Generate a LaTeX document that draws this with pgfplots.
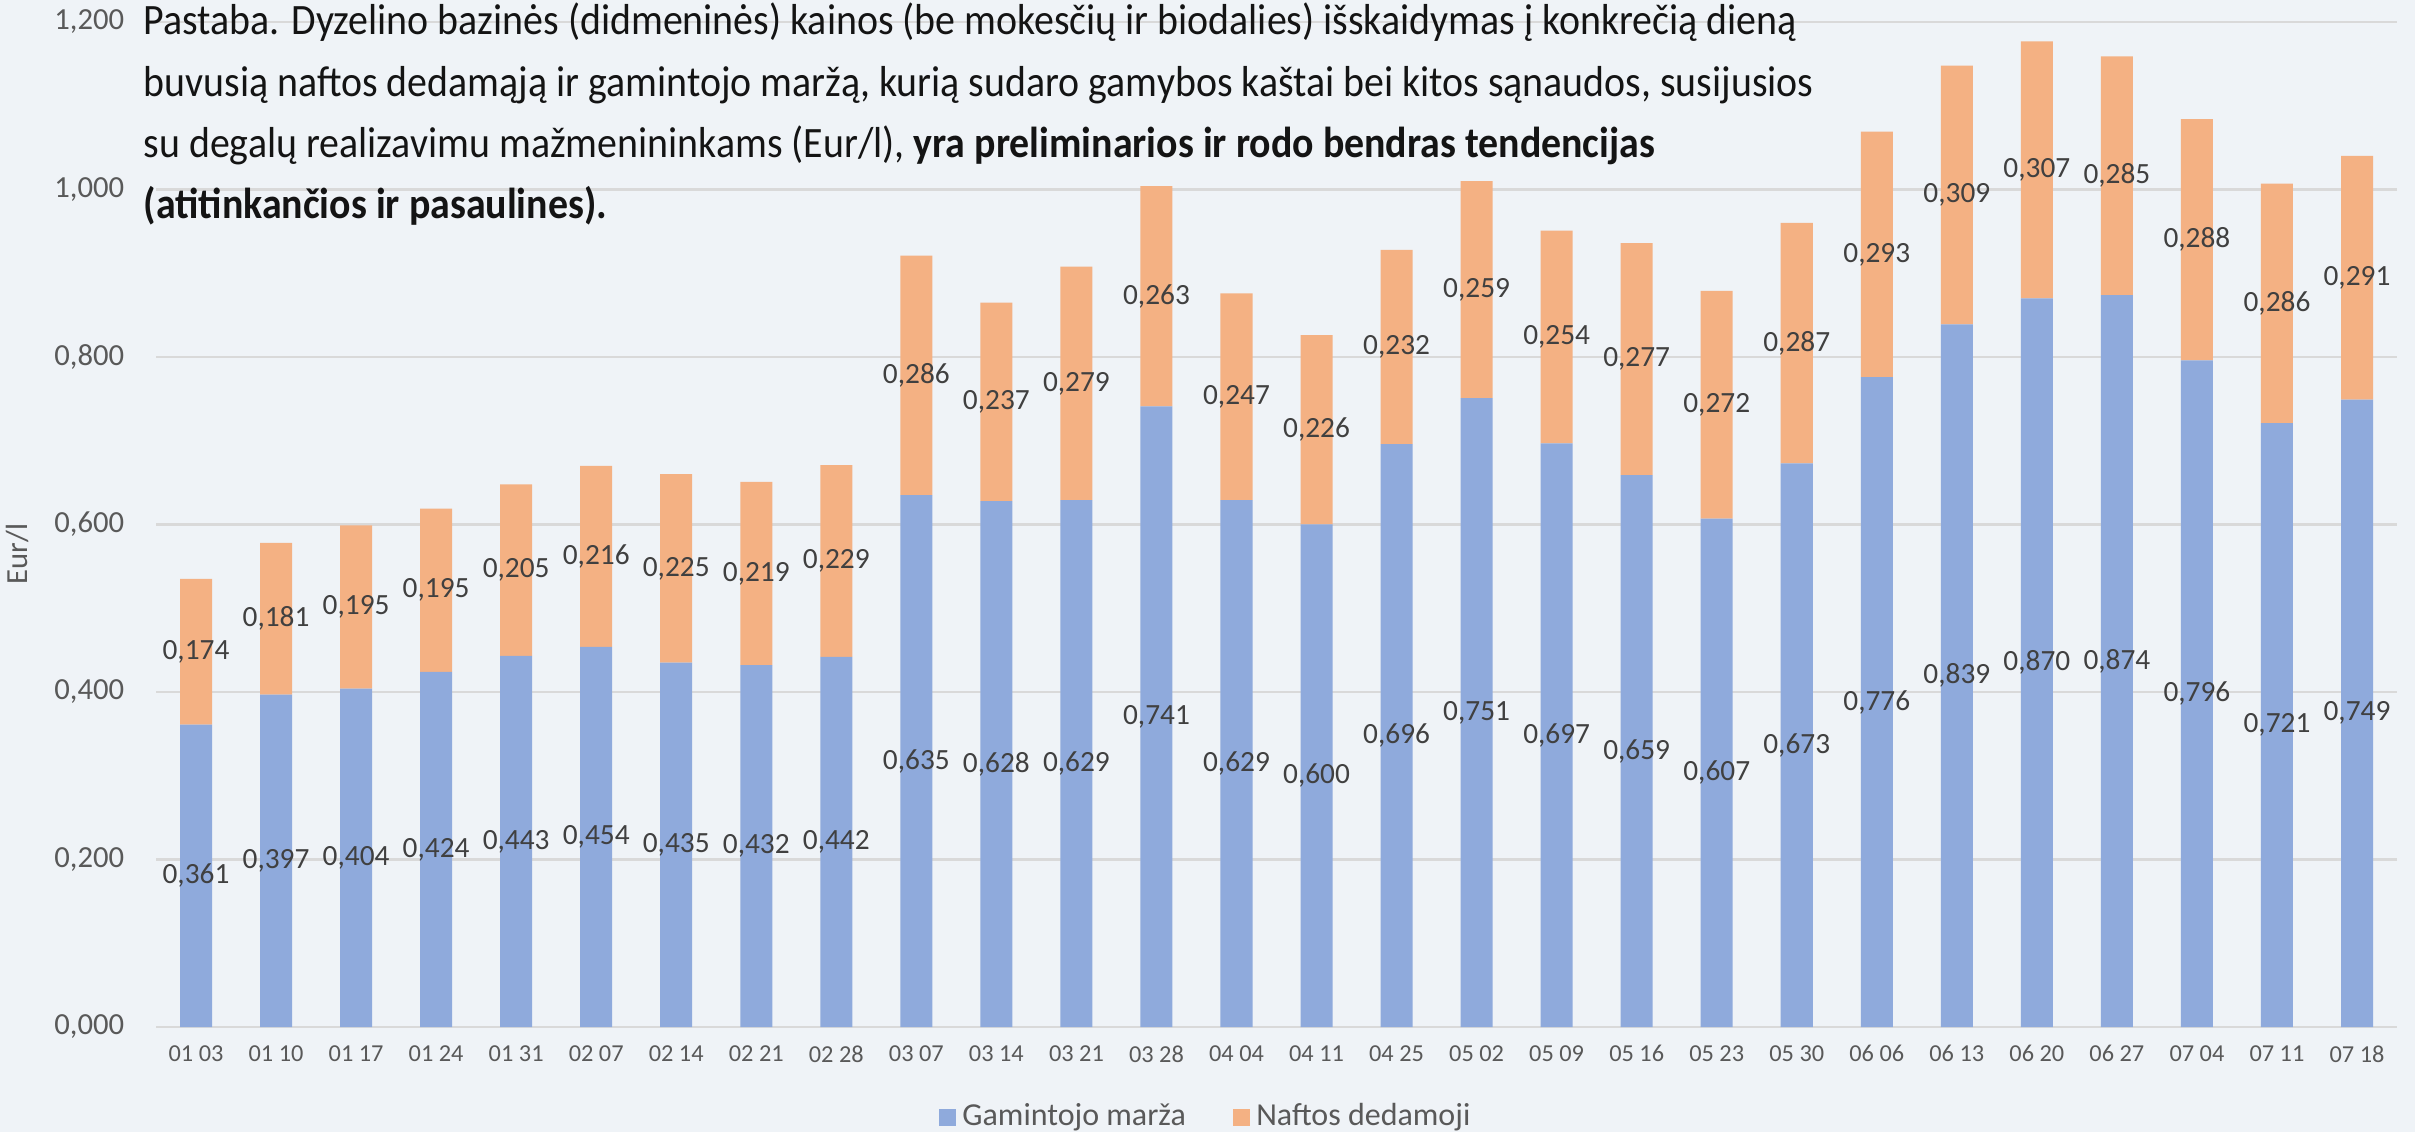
\documentclass[border=0pt]{standalone}
\usepackage{fontspec}
\setmainfont{Carlito}
\newfontfamily\titlefont[FakeStretch=0.92]{Carlito}
\usepackage{pgfplots}
\usepackage{pgfplotstable}
\pgfplotsset{compat=1.18}

\definecolor{bgc}{RGB}{239,243,247}
\definecolor{bluec}{RGB}{143,170,220}
\definecolor{orangec}{RGB}{244,177,131}
\definecolor{gridc}{RGB}{217,217,217}
\definecolor{tickc}{RGB}{89,89,89}
\definecolor{lblc}{RGB}{64,64,64}
\definecolor{titlec}{RGB}{20,20,20}

% weekly split of the diesel base price, Eur/l
\pgfplotstableread{
x marza nafta
0  0.361 0.174
1  0.397 0.181
2  0.404 0.195
3  0.424 0.195
4  0.443 0.205
5  0.454 0.216
6  0.435 0.225
7  0.432 0.219
8  0.442 0.229
9  0.635 0.286
10 0.628 0.237
11 0.629 0.279
12 0.741 0.263
13 0.629 0.247
14 0.600 0.226
15 0.696 0.232
16 0.751 0.259
17 0.697 0.254
18 0.659 0.277
19 0.607 0.272
20 0.673 0.287
21 0.776 0.293
22 0.839 0.309
23 0.870 0.307
24 0.874 0.285
25 0.796 0.288
26 0.721 0.286
27 0.749 0.291
}\prices

\begin{document}
\begin{tikzpicture}
\fill[bgc] (-46.8pt,-31.5pt) rectangle (677.7pt,308.1pt);
\begin{axis}[
  scale only axis,
  width=672.3pt, height=301.5pt,
  ybar stacked, bar width=0.4,
  xmin=-0.5, xmax=27.5, ymin=0, ymax=1.2,
  enlargelimits=false,
  xtick={0,...,27},
  xticklabels={01 03,01 10,01 17,01 24,01 31,02 07,02 14,02 21,02 28,03 07,03 14,03 21,03 28,04 04,04 11,04 25,05 02,05 09,05 16,05 23,05 30,06 06,06 13,06 20,06 27,07 04,07 11,07 18},
  ytick={0,0.2,0.4,0.6,0.8,1.0,1.2},
  axis line style={draw=none},
  tick style={draw=none},
  ymajorgrids,
  grid style={gridc, line width=0.7pt},
  /pgf/number format/.cd, fixed, fixed zerofill, precision=3, use comma,
    1000 sep={}, assume math mode=true,
  /pgfplots/.cd,
  xticklabel style={font=\fontsize{7.3}{9}\selectfont, text=tickc, yshift=-2pt},
  yticklabel style={font=\fontsize{9.2}{11}\selectfont, text=tickc, xshift=-6pt},
  point meta=explicit,
  nodes near coords,
  % with anchor=center the stacked labels already sit mid-segment
  nodes near coords style={font=\fontsize{8.8}{10}\selectfont, text=lblc, anchor=center},
  legend style={at={(axis description cs:0.349,0)}, anchor=west, yshift=-27pt,
    draw=none, fill=none, inner sep=0pt,
    font=\fontsize{9.6}{11}\selectfont, text=tickc,
    /tikz/every even column/.append style={column sep=12pt}},
  legend columns=2,
  legend image code/.code={\fill[#1] (0pt,-2.55pt) rectangle (5.1pt,2.55pt);},
]
\addplot[fill=bluec, draw=none] table[x=x, y=marza, meta=marza] {\prices};
\addlegendentry{Gamintojo marža}
\addplot[fill=orangec, draw=none] table[x=x, y=nafta, meta=nafta] {\prices};
\addlegendentry{Naftos dedamoji}
\end{axis}
\node[rotate=90, font=\fontsize{9.2}{11}\selectfont, text=tickc] at (-41.4pt,141.9pt) {Eur/l};
\begin{scope}[every node/.style={anchor=base west, inner sep=0pt, text=titlec,
    font=\titlefont\fontsize{13}{15}\selectfont}]
\node at (-3.9pt,297.6pt) {Pastaba. Dyzelino bazinės (didmeninės) kainos (be mokesčių ir biodalies) išskaidymas į konkrečią dieną};
\node at (-3.9pt,279.2pt) {buvusią naftos dedamąją ir gamintojo maržą, kurią sudaro gamybos kaštai bei kitos sąnaudos, susijusios};
\node at (-3.9pt,260.8pt) {su degalų realizavimu mažmenininkams (Eur/l), \textbf{yra preliminarios ir rodo bendras tendencijas}};
\node at (-3.9pt,242.4pt) {\textbf{(atitinkančios ir pasaulines).}};
\end{scope}
\pgfresetboundingbox
\path[use as bounding box] (-46.8pt,-31.5pt) rectangle (677.7pt,308.1pt);
\end{tikzpicture}
\end{document}
